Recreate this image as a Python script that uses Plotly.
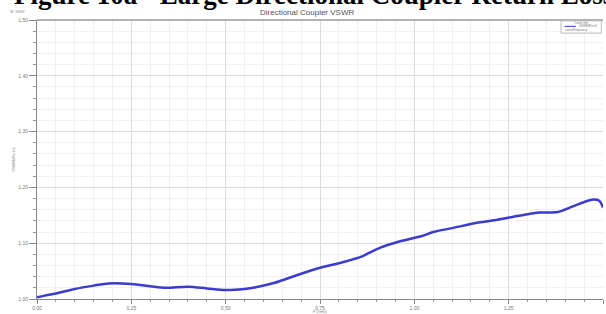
import plotly.graph_objects as go

freq = [0.00, 0.02, 0.05, 0.10, 0.15, 0.19, 0.25, 0.30, 0.34, 0.40, 0.45, 0.50, 0.55, 0.58,
        0.63, 0.69, 0.75, 0.81, 0.86, 0.91, 0.96, 1.02, 1.05, 1.10, 1.17, 1.22, 1.26, 1.30,
        1.33, 1.38, 1.42, 1.47, 1.49, 1.50]
vswr = [1.003, 1.006, 1.010, 1.018, 1.024, 1.028, 1.027, 1.023, 1.020, 1.022, 1.019, 1.016,
        1.018, 1.021, 1.029, 1.043, 1.056, 1.066, 1.076, 1.092, 1.103, 1.113, 1.120, 1.127,
        1.137, 1.142, 1.147, 1.152, 1.155, 1.156, 1.166, 1.178, 1.176, 1.164]

x_ticks = [0.00, 0.25, 0.50, 0.75, 1.00, 1.25, 1.50]
x_tick_labels = ["0.00", "0.25", "0.50", "0.75", "1.00", "1.25", "1.50"]
y_ticks = [1.00, 1.10, 1.20, 1.30, 1.40, 1.50]
y_tick_labels = ["1.00", "1.10", "1.20", "1.30", "1.40", "1.50"]

fig = go.Figure()
fig.add_trace(go.Scatter(
    x=freq, y=vswr, mode="lines", name="VSWR(Port1)",
    line=dict(color="#3b3bd0", width=2.5, shape="spline", smoothing=0.8),
    showlegend=False, cliponaxis=False,
))

axis_font = dict(family="Arial, Liberation Sans, sans-serif", size=5, color="#777777")
small = "Arial, Liberation Sans, sans-serif"

fig.update_layout(
    width=606, height=314,
    margin=dict(l=37, r=3, t=20, b=15),
    paper_bgcolor="white", plot_bgcolor="white",
    xaxis=dict(
        range=[0, 1.5], tickvals=x_ticks, ticktext=x_tick_labels,
        showgrid=True, gridcolor="#dcdcdc", gridwidth=1,
        ticks="outside", ticklen=4, tickcolor="#888888",
        showline=True, linecolor="#888888", linewidth=1,
        tickfont=axis_font, zeroline=False,
        minor=dict(dtick=0.05, tick0=0, showgrid=True, gridcolor="#f0f0f0",
                   ticks="outside", ticklen=2, tickcolor="#999999"),
    ),
    yaxis=dict(
        range=[1.0, 1.5], tickvals=y_ticks, ticktext=y_tick_labels,
        showgrid=True, gridcolor="#dcdcdc", gridwidth=1,
        ticks="outside", ticklen=7, tickcolor="#888888",
        showline=True, linecolor="#888888", linewidth=1,
        tickfont=axis_font, zeroline=False,
        minor=dict(dtick=0.02, tick0=1.0, showgrid=True, gridcolor="#f0f0f0",
                   ticks="outside", ticklen=3, tickcolor="#999999"),
    ),
    shapes=[
        dict(type="line", xref="paper", yref="paper", x0=0, x1=1, y0=1, y1=1,
             line=dict(color="#999999", width=1.5)),
        dict(type="rect", xref="paper", yref="paper", x0=0.926, x1=0.997, y0=0.953, y1=0.997,
             line=dict(color="#aaaaaa", width=0.8), fillcolor="white"),
        dict(type="line", xref="paper", yref="paper", x0=0.932, x1=0.952, y0=0.977, y1=0.977,
             line=dict(color="#5555dd", width=1.2)),
    ],
    annotations=[
        dict(text="<b>Figure 10a - Large Directional Coupler Return Loss</b>",
             xref="paper", yref="paper", x=-0.044, y=1.0, xanchor="left", yanchor="bottom",
             yshift=8, showarrow=False,
             font=dict(family="Liberation Serif, Times New Roman, serif", size=27, color="black")),
        dict(text="Directional Coupler VSWR", xref="paper", yref="paper", x=0.477, y=1.0,
             xanchor="center", yanchor="bottom", yshift=1, showarrow=False,
             font=dict(family=small, size=8, color="#555555")),
        dict(text="W 10HZ", xref="paper", yref="paper", x=-0.052, y=1.0, xanchor="left",
             yanchor="bottom", yshift=4, showarrow=False,
             font=dict(family=small, size=4, color="#888888")),
        dict(text="VSWR(Port1)", xref="paper", yref="paper", x=-0.042, y=0.5,
             textangle=-90, xanchor="center", yanchor="middle", showarrow=False,
             font=dict(family=small, size=4, color="#888888")),
        dict(text="F [GHz]", xref="paper", yref="paper", x=0.5, y=0, yshift=-12,
             xanchor="center", yanchor="middle", showarrow=False,
             font=dict(family=small, size=4, color="#888888")),
        dict(text="Curve Info", xref="paper", yref="paper", x=0.962, y=0.99,
             xanchor="center", yanchor="middle", showarrow=False,
             font=dict(family=small, size=3, color="#777777")),
        dict(text="VSWR(Port1)", xref="paper", yref="paper", x=0.993, y=0.977,
             xanchor="right", yanchor="middle", showarrow=False,
             font=dict(family=small, size=3, color="#777777")),
        dict(text="LinearFrequency", xref="paper", yref="paper", x=0.929, y=0.963,
             xanchor="left", yanchor="middle", showarrow=False,
             font=dict(family=small, size=3, color="#777777")),
    ],
)

fig.write_html("out.html", config={"displayModeBar": False},
               post_script="document.body.style.margin='0';")
